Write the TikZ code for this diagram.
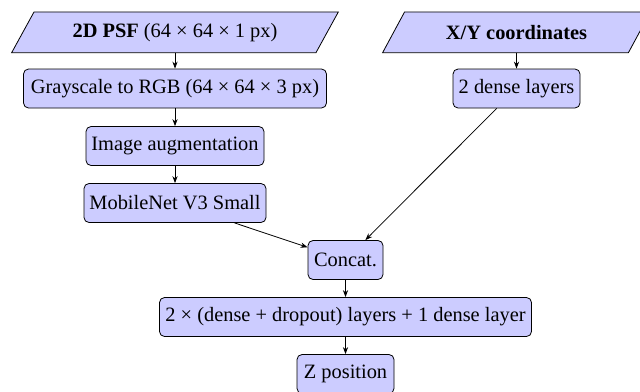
\documentclass[tikz,border=0pt]{standalone}
\usepackage{fontspec}
\setmainfont{Liberation Serif}
\usetikzlibrary{arrows.meta,backgrounds}
\begin{document}
\begin{tikzpicture}[x=0.5pt,y=-0.5pt,
  font=\fontsize{10.2}{12}\selectfont,
  box/.style={draw, fill=blue!20, rounded corners=2.5pt, minimum height=19.5pt, inner xsep=2pt, line width=0.4pt},
  io/.style={minimum height=20pt, inner xsep=2pt},
  para/.style={draw, fill=blue!20, line width=0.4pt},
  arr/.style={-{Stealth[length=3.5pt,width=2.6pt]}, line width=0.4pt}]
\useasboundingbox (0,0) rectangle (640,391);
% nodes
\node[io, minimum width=151.75pt] (psf) at (175,32.3) {\textbf{2D PSF} (64 × 64 × 1 px)};
\node[io, minimum width=122.5pt] (xy) at (516.5,32.3) {\textbf{X/Y coordinates}};
\node[box, minimum width=151.5pt] (gray) at (175,88.5) {Grayscale to RGB (64 × 64 × 3 px)};
\node[box, minimum width=63.5pt] (dense2) at (516.5,88.5) {2 dense layers};
\node[box, minimum width=89pt] (aug) at (175,146) {Image augmentation};
\node[box, minimum width=91pt] (mob) at (175,203) {MobileNet V3 Small};
\node[box, minimum width=37.5pt] (concat) at (345.5,260) {Concat.};
\node[box, minimum width=186pt] (dense) at (345.5,317) {2 × (dense + dropout) layers + 1 dense layer};
\node[box, minimum width=48.5pt] (z) at (345.5,374) {Z position};
% background and parallelograms
\begin{scope}[on background layer]
  \fill[white] (0,0) rectangle (640,391);
  \draw[para] ([xshift=-5.6pt]psf.south west) -- ([xshift=-5.6pt]psf.south east)
    -- ([xshift=5.6pt]psf.north east) -- ([xshift=5.6pt]psf.north west) -- cycle;
  \draw[para] ([xshift=-5.5pt]xy.south west) -- ([xshift=-5.5pt]xy.south east)
    -- ([xshift=5.5pt]xy.north east) -- ([xshift=5.5pt]xy.north west) -- cycle;
\end{scope}
% connectors
\draw[arr] (psf.south) -- (gray.north);
\draw[arr] (gray) -- (aug);
\draw[arr] (aug) -- (mob);
\draw[arr] (mob) -- (concat);
\draw[arr] (xy.south) -- (dense2.north);
\draw[arr] (dense2) -- (concat);
\draw[arr] (concat) -- (dense);
\draw[arr] (dense) -- (z);
\end{tikzpicture}
\end{document}
